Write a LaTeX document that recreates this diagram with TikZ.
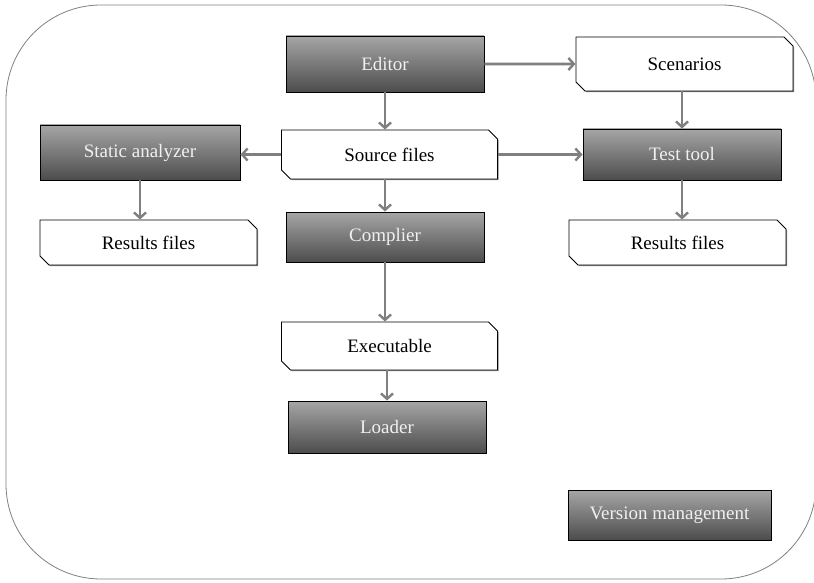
\documentclass[tikz,border=0pt]{standalone}
\usepackage{fontspec}
\setmainfont{Liberation Serif}
\usetikzlibrary{arrows.meta,shapes.misc,shadows}

\tikzset{
  tool/.style={draw=black, line width=0.9pt, rectangle,
    top color=black!35, middle color=black!62, bottom color=black!70,
    text=black!6, minimum width=198pt, minimum height=52pt,
    drop shadow={shadow xshift=1.2pt, shadow yshift=-1.2pt, fill=black, opacity=0.7}},
  file/.style={draw=black, line width=0.9pt, fill=white,
    chamfered rectangle, chamfered rectangle corners={north east, south west},
    chamfered rectangle xsep=5pt, chamfered rectangle ysep=4pt,
    minimum width=216pt, minimum height=48pt,
    drop shadow={shadow xshift=1.2pt, shadow yshift=-1.2pt, fill=black!80, opacity=0.6}},
  flow/.style={draw=black!50, line width=2.8pt,
    -{Straight Barb[length=5.5pt,width=12pt,line width=2.4pt]}},
}

\begin{document}
\begin{tikzpicture}[x=1pt, y=-1pt, font=\fontsize{19}{23}\selectfont]
  \useasboundingbox (0,0) rectangle (814,583);
  % outer frame
  \draw[black!50, line width=0.8pt, rounded corners=95pt] (6,5) rectangle (816,579);

  \node[tool, minimum height=56pt] (editor) at (385,64) {Editor};
  \node[file, minimum height=54pt, minimum width=217pt] (scen) at (684.5,64) {Scenarios};
  \node[file, minimum height=49pt] (source) at (389.5,154.5) {Source files};
  \node[tool, minimum width=200pt, minimum height=55pt] (static) at (140,152.5) {Static analyzer};
  \node[tool, minimum height=51pt] (test) at (682,154.5) {Test tool};
  \node[file, minimum height=45pt, minimum width=217pt] (resl) at (148.5,242.5) {Results files};
  \node[file, minimum height=45pt, minimum width=217pt] (resr) at (677.5,242.5) {Results files};
  \node[tool, minimum height=50pt] (comp) at (385,237) {Complier};
  \node[file] (exe) at (389.5,346) {Executable};
  \node[tool] (loader) at (387,427) {Loader};
  \node[tool, minimum width=203pt, minimum height=50pt] (vm) at (669.5,515) {Version management};

  \draw[flow] (editor) -- (editor |- source.north);
  \draw[flow] (editor) -- (scen);
  \draw[flow] (source.west) -- (source.west -| static.east);
  \draw[flow] (source.east) -- (source.east -| test.west);
  \draw[flow] (test.north |- scen.south) -- (test.north);
  \draw[flow] (static.south) -- (static.south |- resl.north);
  \draw[flow] (test.south) -- (test.south |- resr.north);
  \draw[flow] (source.south -| comp) -- (comp.north);
  \draw[flow] (comp.south) -- (comp.south |- exe.north);
  \draw[flow] (loader.north |- exe.south) -- (loader.north);
\end{tikzpicture}
\end{document}
